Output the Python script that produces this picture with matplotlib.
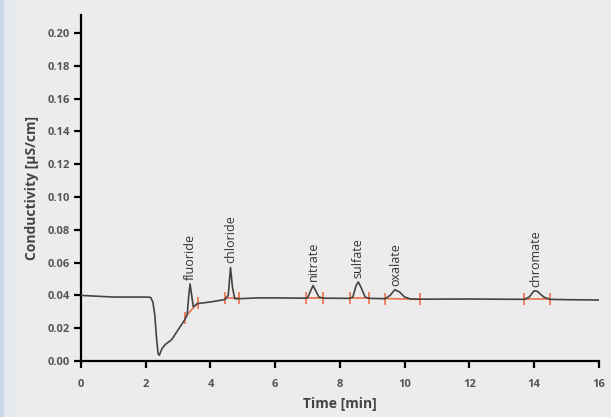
import matplotlib.pyplot as plt
from matplotlib.patches import Rectangle

# chromatogram trace (time in min, conductivity in uS/cm)
time = [0.0, 0.5, 1.0, 1.5, 2.0, 2.15, 2.22, 2.28, 2.33, 2.38, 2.42, 2.5, 2.6,
        2.8, 3.0, 3.2, 3.28, 3.33, 3.37, 3.42, 3.47, 3.6, 3.8, 4.0, 4.3, 4.45,
        4.55, 4.62, 4.68, 4.75, 4.9, 5.5, 6.0, 6.9, 7.0, 7.1, 7.17, 7.25, 7.35,
        7.5, 8.3, 8.4, 8.5, 8.57, 8.65, 8.78, 8.9, 9.4, 9.55, 9.7, 9.85, 10.0,
        10.2, 10.5, 12.0, 13.7, 13.85, 14.0, 14.1, 14.3, 14.5, 15.0, 16.0]
conductivity = [0.0400, 0.0395, 0.0390, 0.0390, 0.0390, 0.0388, 0.0360, 0.0280,
                0.0150, 0.0045, 0.0035, 0.0075, 0.0100, 0.0130, 0.0190, 0.0250,
                0.0280, 0.0400, 0.0470, 0.0400, 0.0330, 0.0350, 0.0355, 0.0360,
                0.0370, 0.0375, 0.0400, 0.0570, 0.0450, 0.0380, 0.0380, 0.0385,
                0.0385, 0.0383, 0.0385, 0.0430, 0.0460, 0.0430, 0.0390, 0.0383,
                0.0382, 0.0390, 0.0460, 0.0482, 0.0450, 0.0390, 0.0382, 0.0380,
                0.0400, 0.0435, 0.0420, 0.0390, 0.0378, 0.0377, 0.0378, 0.0376,
                0.0390, 0.0428, 0.0425, 0.0390, 0.0376, 0.0374, 0.0372]

# peaks: name, apex time, apex height, integration start/end
peak_names = ['fluoride', 'chloride', 'nitrate', 'sulfate', 'oxalate', 'chromate']
peak_times = [3.37, 4.62, 7.17, 8.57, 9.72, 14.05]
peak_heights = [0.047, 0.057, 0.046, 0.048, 0.0435, 0.0428]
int_start = [(3.21, 0.0265), (4.44, 0.0382), (6.94, 0.0382),
             (8.30, 0.0382), (9.38, 0.0381), (13.70, 0.0376)]
int_end = [(3.60, 0.0355), (4.87, 0.0382), (7.48, 0.0382),
           (8.90, 0.0382), (10.46, 0.0376), (14.48, 0.0376)]

tick_color = '#555555'
orange = '#ee7048'

plt.rcParams['font.family'] = ['Open Sans', 'DejaVu Sans']

fig = plt.figure(figsize=(6.11, 4.17), dpi=100, facecolor='#ececec')
# pale blue edge on the left of the panel
fig.patches.append(Rectangle((0, 0), 0.007, 1, transform=fig.transFigure,
                             facecolor='#c8d7e8', edgecolor='none', zorder=0))
fig.patches.append(Rectangle((0.007, 0), 0.02, 1, transform=fig.transFigure,
                             facecolor='#e6e9ee', edgecolor='none', zorder=0))

ax = fig.add_axes([0.1326, 0.1343, 0.8474, 0.8297])
ax.set_facecolor('none')

ax.plot(time, conductivity, color='#444444', lw=1.2, zorder=3)

for (x0, y0), (x1, y1) in zip(int_start, int_end):
    ax.plot([x0, x1], [y0, y1], color=orange, lw=1.2, zorder=2)
    ax.plot([x0, x1], [y0, y1], ls='none', marker='|', ms=8, mew=1.2,
            color=orange, zorder=2)

for name, t, h in zip(peak_names, peak_times, peak_heights):
    ax.annotate(name, (t, h), xytext=(0, 3), textcoords='offset points',
                rotation=90, ha='center', va='bottom', fontsize=9,
                color='#333333')

ax.set_xlim(0, 16)
ax.set_ylim(0, 0.211)
ax.set_xticks(range(0, 17, 2))
ax.set_yticks([i * 0.02 for i in range(11)])
ax.yaxis.set_major_formatter(plt.FormatStrFormatter('%.2f'))

for side in ['top', 'right']:
    ax.spines[side].set_visible(False)
for side in ['left', 'bottom']:
    ax.spines[side].set_linewidth(1.6)

ax.tick_params(direction='out', length=5, width=1.6, color='black',
               labelsize=8, labelcolor=tick_color)
ax.tick_params(axis='x', pad=8)
ax.tick_params(axis='y', pad=3)
for lbl in ax.get_xticklabels() + ax.get_yticklabels():
    lbl.set_fontweight('bold')

ax.set_xlabel('Time [min]', fontsize=10, fontweight='bold',
              color='#444444', labelpad=5)
ax.set_ylabel('Conductivity [µS/cm]', fontsize=10, fontweight='bold',
              color='#444444', labelpad=6)

fig.savefig('out.png', dpi=100, facecolor=fig.get_facecolor())
